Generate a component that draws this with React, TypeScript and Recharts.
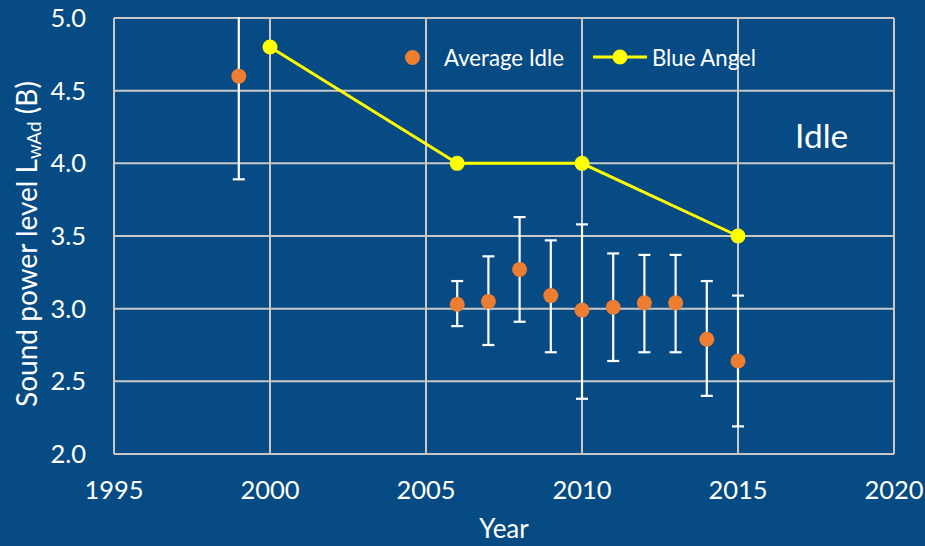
import { CartesianGrid, ComposedChart, ErrorBar, Scatter, XAxis, YAxis } from "recharts";

const FONT = "Lato, 'Open Sans', sans-serif";

// Average idle sound power level per year (B), with spread
const idleYears = [1999, 2006, 2007, 2008, 2009, 2010, 2011, 2012, 2013, 2014, 2015];
const idleMean = [4.6, 3.03, 3.05, 3.27, 3.09, 2.99, 3.01, 3.04, 3.04, 2.79, 2.64];
const idleUpper = [5.3, 3.19, 3.36, 3.63, 3.47, 3.58, 3.38, 3.37, 3.37, 3.19, 3.09];
const idleLower = [3.89, 2.88, 2.75, 2.91, 2.7, 2.38, 2.64, 2.7, 2.7, 2.4, 2.19];

// Blue Angel limit
const angelYears = [2000, 2006, 2010, 2015];
const angelValues = [4.8, 4.0, 4.0, 3.5];

const xTicks = [1995, 2000, 2005, 2010, 2015, 2020];
const yTicks = [2.0, 2.5, 3.0, 3.5, 4.0, 4.5, 5.0];

const idleData = idleYears.map((year, i) => ({
  year,
  value: idleMean[i],
  err: [idleMean[i] - idleLower[i], idleUpper[i] - idleMean[i]],
}));
const angelData = angelYears.map((year, i) => ({ year, value: angelValues[i] }));

const dot = (color: string) => (props: any) =>
  <circle cx={props.cx} cy={props.cy} r={7.5} fill={color} />;

function YLabel(props: any) {
  const vb = props.viewBox || {};
  const cy = vb.y + vb.height / 2 + 8;
  const x = 26;
  return (
    <text
      x={x}
      y={cy}
      transform={`rotate(-90 ${x} ${cy})`}
      textAnchor="middle"
      dominantBaseline="central"
      fill="#fff"
      fontSize={28}
      fontFamily={FONT}
    >
      Sound power level L
      <tspan fontSize={19} dy={7}>wAd</tspan>
      <tspan dy={-7}> (B)</tspan>
    </text>
  );
}

export default function App() {
  return (
    <div
      style={{
        position: "absolute",
        left: 0,
        top: 0,
        width: 925,
        height: 546,
        background: "#074B85",
        fontFamily: FONT,
      }}
    >
      {/* clip error bars to the plot area, like the original */}
      <style>{`.recharts-errorBars, .recharts-errorBar { clip-path: url(#plotClip); }`}</style>
      <svg width={0} height={0} style={{ position: "absolute" }}>
        <defs>
          <clipPath id="plotClip" clipPathUnits="userSpaceOnUse">
            <rect x={100} y={17} width={810} height={440} />
          </clipPath>
        </defs>
      </svg>

      <ComposedChart
        width={925}
        height={546}
        margin={{ top: 18, right: 31, bottom: 32, left: 0 }}
      >
        <CartesianGrid stroke="#C8C8C8" strokeWidth={2} horizontalValues={yTicks} verticalValues={xTicks} />
        <XAxis
          type="number"
          dataKey="year"
          domain={[1995, 2020]}
          ticks={xTicks}
          axisLine={false}
          tickLine={false}
          tickSize={0}
          tickMargin={27}
          height={60}
          tick={{ fill: "#fff", fontSize: 25.5, fontFamily: FONT }}
          label={{ value: "Year", position: "insideBottom", offset: -24, fill: "#fff", fontSize: 26, fontFamily: FONT }}
        />
        <YAxis
          type="number"
          domain={[2, 5]}
          allowDataOverflow
          ticks={yTicks}
          tickFormatter={(v) => Number(v).toFixed(1)}
          axisLine={false}
          tickLine={false}
          tickSize={0}
          tickMargin={28}
          width={114}
          tick={{ fill: "#fff", fontSize: 25.5, fontFamily: FONT }}
          label={{ content: <YLabel /> }}
        />
        <Scatter
          name="Average Idle"
          data={idleData}
          dataKey="value"
          fill="#ED7D31"
          shape={dot("#ED7D31")}
          isAnimationActive={false}
        >
          <ErrorBar dataKey="err" direction="y" width={6} stroke="#fff" strokeWidth={2.2} isAnimationActive={false} />
        </Scatter>
        <Scatter
          name="Blue Angel"
          data={angelData}
          dataKey="value"
          fill="#FFFF00"
          line={{ stroke: "#FFFF00", strokeWidth: 3 }}
          shape={dot("#FFFF00")}
          isAnimationActive={false}
        />
      </ComposedChart>

      {/* legend */}
      <div style={{ position: "absolute", left: 405, top: 44, height: 26, display: "flex", alignItems: "center", color: "#fff", fontSize: 22.2 }}>
        <span style={{ width: 15, height: 15, borderRadius: 8, background: "#ED7D31", display: "inline-block" }} />
        <span style={{ marginLeft: 24 }}>Average Idle</span>
        <svg width={54} height={16} style={{ marginLeft: 29 }}>
          <line x1={0} y1={8} x2={54} y2={8} stroke="#FFFF00" strokeWidth={3} />
          <circle cx={27} cy={8} r={7.5} fill="#FFFF00" />
        </svg>
        <span style={{ marginLeft: 5 }}>Blue Angel</span>
      </div>

      <div style={{ position: "absolute", left: 795, top: 115, color: "#fff", fontSize: 33.5 }}>Idle</div>
    </div>
  );
}
